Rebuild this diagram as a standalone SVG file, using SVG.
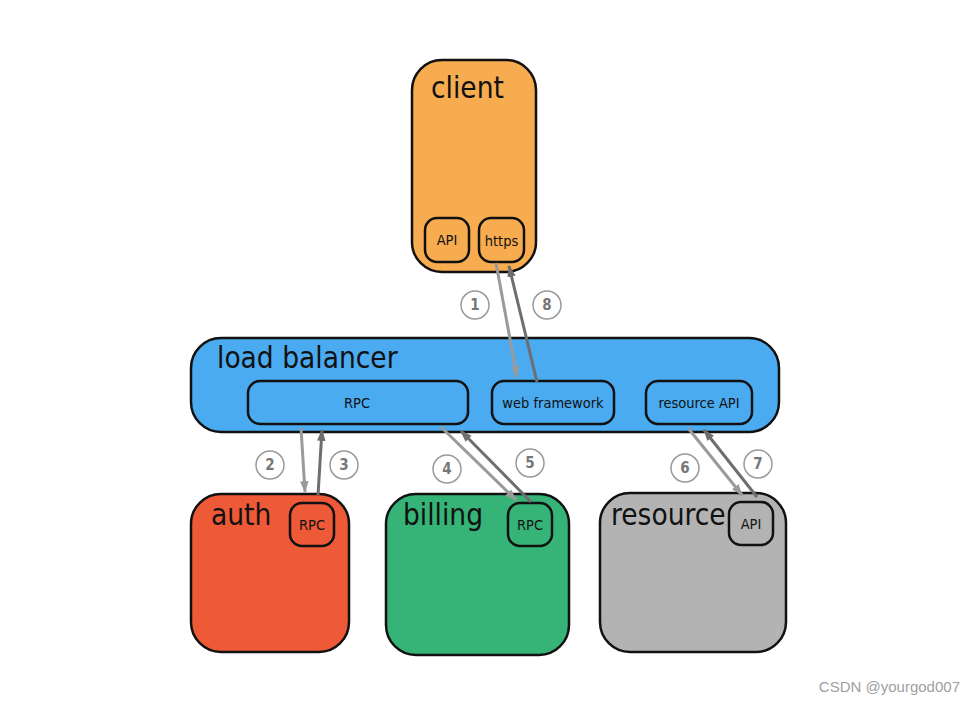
<svg xmlns="http://www.w3.org/2000/svg" width="975" height="705" viewBox="0 0 975 705">
<style>
.box{stroke:#111;stroke-width:2.5}
.sub{fill:none;stroke:#111;stroke-width:2.5}
.big{font-family:"DejaVu Sans Condensed","DejaVu Sans",sans-serif;font-size:29.5px;fill:#111}
.small{font-family:"DejaVu Sans Condensed","DejaVu Sans",sans-serif;font-size:14.5px;fill:#111;text-anchor:middle;dominant-baseline:central}
.a1{stroke:#9a9a9a;stroke-width:3;fill:none;marker-end:url(#mL)}
.a2{stroke:#6e6e6e;stroke-width:3;fill:none;marker-end:url(#mD)}
.num circle{fill:#fff;stroke:#9a9a9a;stroke-width:1.5}
.num text{font-family:"DejaVu Sans Condensed","DejaVu Sans",sans-serif;font-size:15px;font-weight:bold;fill:#777;text-anchor:middle;dominant-baseline:central}
</style>
<defs>
<marker id="mL" viewBox="0 0 10 10" refX="9" refY="5" markerWidth="4" markerHeight="4" orient="auto" markerUnits="strokeWidth"><path d="M0,1.5 L10,5 L0,8.5 z" fill="#9a9a9a"/></marker>
<marker id="mD" viewBox="0 0 10 10" refX="9" refY="5" markerWidth="4" markerHeight="4" orient="auto" markerUnits="strokeWidth"><path d="M0,1.5 L10,5 L0,8.5 z" fill="#6e6e6e"/></marker>
</defs>
<rect width="975" height="705" fill="#fff"/>
<g id="client">
<rect class="box" x="412" y="60" width="124" height="212" rx="30" fill="#f7ac4f"/>
<text class="big" x="431" y="98">client</text>
<rect class="sub" x="425" y="218" width="44" height="44" rx="12"/>
<text class="small" x="447" y="240">API</text>
<rect class="sub" x="479" y="218" width="45" height="44" rx="12"/>
<text class="small" x="501.5" y="241">https</text>
</g>
<g id="loadbalancer">
<rect class="box" x="191" y="338" width="588" height="94" rx="30" fill="#4aabf0"/>
<text class="big" x="217" y="368">load balancer</text>
<rect class="sub" x="248" y="381" width="220" height="43" rx="12"/>
<text class="small" x="357" y="403">RPC</text>
<rect class="sub" x="492" y="381" width="122" height="43" rx="12"/>
<text class="small" x="553" y="403">web framework</text>
<rect class="sub" x="646" y="381" width="106" height="43" rx="12"/>
<text class="small" x="699" y="403">resource API</text>
</g>
<g id="auth">
<rect class="box" x="191" y="494" width="158" height="158" rx="30" fill="#ee5a37"/>
<text class="big" x="211" y="525">auth</text>
<rect class="sub" x="290" y="503" width="44" height="43" rx="12"/>
<text class="small" x="312" y="525">RPC</text>
</g>
<g id="billing">
<rect class="box" x="386" y="494" width="183" height="161" rx="30" fill="#36b477"/>
<text class="big" x="403" y="525">billing</text>
<rect class="sub" x="508" y="503" width="44" height="43" rx="12"/>
<text class="small" x="530" y="525">RPC</text>
</g>
<g id="resource">
<rect class="box" x="600" y="493" width="186" height="159" rx="30" fill="#b3b3b3"/>
<text class="big" x="611" y="525">resource</text>
<rect class="sub" x="729" y="502" width="44" height="43" rx="12"/>
<text class="small" x="751" y="524">API</text>
</g>
<g id="connectors">
<line class="a1" x1="496" y1="263" x2="517" y2="377"/>
<line class="a2" x1="537" y1="382" x2="509" y2="266"/>
<line class="a1" x1="301" y1="428" x2="305" y2="492"/>
<line class="a2" x1="318" y1="495" x2="322" y2="430"/>
<line class="a1" x1="441" y1="427" x2="516" y2="500"/>
<line class="a2" x1="531" y1="502" x2="461" y2="431"/>
<line class="a1" x1="688" y1="428" x2="742" y2="495"/>
<line class="a2" x1="757" y1="497" x2="704" y2="430"/>
</g>
<g id="labels">
<g class="num"><circle cx="475" cy="305" r="14"/><text x="475" y="305">1</text></g>
<g class="num"><circle cx="547" cy="305" r="14"/><text x="547" y="305">8</text></g>
<g class="num"><circle cx="270" cy="465" r="14"/><text x="270" y="465">2</text></g>
<g class="num"><circle cx="344" cy="465" r="14"/><text x="344" y="465">3</text></g>
<g class="num"><circle cx="447" cy="469" r="14"/><text x="447" y="469">4</text></g>
<g class="num"><circle cx="530" cy="463" r="14"/><text x="530" y="463">5</text></g>
<g class="num"><circle cx="685" cy="468" r="14"/><text x="685" y="468">6</text></g>
<g class="num"><circle cx="758" cy="464" r="14"/><text x="758" y="464">7</text></g>
</g>
<text x="960" y="692" text-anchor="end" font-family="'Liberation Sans',sans-serif" font-size="15" fill="#a0a0a0">CSDN @yourgod007</text>
</svg>
